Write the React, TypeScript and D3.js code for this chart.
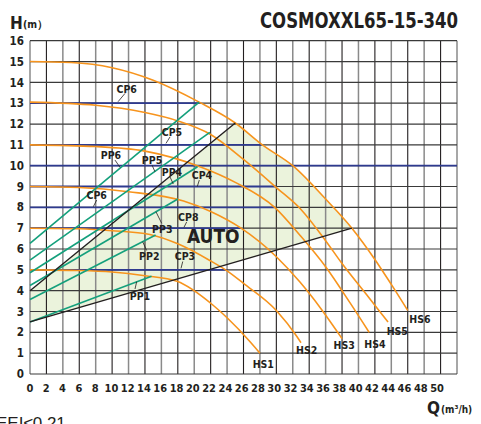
import React from 'react';
import * as d3 from 'd3';

// pump curves: [Q m3/h, H m]
const curveHS6 = [[0, 15], [5, 14.95], [10, 14.7], [15, 14.1], [20.6, 13.05], [25, 12.05], [28.3, 11], [32, 10], [36, 8.4], [39.2, 7], [42, 5.5], [44, 4.3], [46, 3.05]];
const curveHS5 = [[0, 13.05], [8, 12.9], [14, 12.55], [18, 12.15], [22, 11.5], [26, 10.3], [30, 8.95], [33, 7.9], [36, 6.4], [38, 5.3], [41, 3.8], [43.6, 2.5]];
const curveHS4 = [[0, 11], [8, 10.92], [14, 10.7], [20.7, 9.95], [25, 9.2], [29.8, 8.0], [32.9, 6.65], [36, 5.15], [39, 3.4], [41.3, 2.0]];
const curveHS3 = [[0, 9], [6, 8.95], [12, 8.75], [18.7, 8.3], [22, 7.8], [25.7, 7.0], [30, 5.63], [32.9, 4.4], [35.5, 3.1], [38, 1.7]];
const curveHS2 = [[0, 7], [6, 6.97], [10, 6.88], [14.6, 6.7], [18, 6.25], [21.9, 5.45], [24, 4.95], [26, 4.35], [30, 3.05], [32.5, 1.8], [33, 1.5]];
const curveHS1 = [[0, 5], [6, 4.97], [10, 4.9], [14, 4.72], [17.9, 4.45], [22.3, 3.3], [24, 2.7], [26.8, 1.55], [28, 1.0]];
const pumpCurves = [curveHS6, curveHS5, curveHS4, curveHS3, curveHS2, curveHS1];

// constant pressure lines (height, end flow)
const cpHeights = [13, 11, 10, 9, 8, 7, 5];
const cpEndQ = [20.6, 28.2, 52, 30, 29.8, 25.7, 24];

// proportional pressure lines PP1..PP6
const ppStartH = [2.5, 3.58, 4.25, 4.86, 5.47, 6.27];
const ppEnd = [[14.8, 4.69], [15.3, 6.67], [18, 8.4], [20.4, 9.95], [21.9, 11.6], [20.6, 13.05]];

// AUTO range bounds
const autoUpper = [[0, 4], [25, 12.05]];
const autoLower = [[0, 2.5], [39.2, 7]];

const qTicks = d3.range(0, 51, 2);
const hTicks = d3.range(0, 17, 1);
const qGrid = d3.range(0, 53, 2);

// labels: text, text pos [Q,H], leader from/to
const labels = [
  { t: 'CP6', at: [11.78, 13.66], l: [[11.57, 13.47], [10.72, 13.07]] },
  { t: 'CP5', at: [17.29, 11.63], l: [[17.05, 11.38], [16.56, 11.07]] },
  { t: 'PP6', at: [9.86, 10.51], l: [[10.35, 10.27], [10.96, 9.92]] },
  { t: 'PP5', at: [14.86, 10.27], l: [[14.86, 10.03], [15.22, 9.71]] },
  { t: 'PP4', at: [17.29, 9.7], l: [[17.05, 9.46], [17.45, 9.12]] },
  { t: 'CP4', at: [20.94, 9.55], l: [[20.62, 9.31], [20.37, 9.0]] },
  { t: 'CP6', at: [8.12, 8.59], l: [[8.12, 8.35], [7.71, 8.03]] },
  { t: 'CP8', at: [19.28, 7.52], l: [[19.08, 7.3], [18.75, 7.04]] },
  { t: 'PP3', at: [16.11, 6.96], l: [[16.04, 7.23], [15.34, 7.79]] },
  { t: 'PP2', at: [14.53, 5.66], l: [[14.21, 5.93], [13.72, 6.35]] },
  { t: 'CP3', at: [18.87, 5.66], l: [[18.6, 5.4], [18.39, 5.07]] },
  { t: 'PP1', at: [13.39, 3.74], l: [[12.79, 4.08], [12.99, 4.43]] },
];
const hsLabels = ['HS6', 'HS5', 'HS4', 'HS3', 'HS2', 'HS1'];
const hsLabelAt = [[47.49, 2.64], [44.73, 2.06], [42.01, 1.44], [38.27, 1.39], [33.69, 1.15], [28.41, 0.47]];

const W = 481;
const H = 424;
const FONT = "'DejaVu Sans Condensed', 'Liberation Sans Narrow', Roboto, sans-serif";
const ORANGE = '#f7941d';
const GREEN = '#14a07c';
const BLUE = '#2e3a8f';
const INK = '#231f20';

export default function App() {
  const x = d3.scaleLinear().domain([0, 52]).range([30, 457]);
  const y = d3.scaleLinear().domain([0, 16]).range([374, 40.7]);

  const curveLine = d3.line<number[]>().x(d => x(d[0])).y(d => y(d[1])).curve(d3.curveMonotoneX);
  const straight = d3.line<number[]>().x(d => x(d[0])).y(d => y(d[1]));

  // AUTO area: upper line, down along max curve, back along lower line
  const maxSeg = curveHS6.filter(d => d[0] >= autoUpper[1][0] && d[0] <= autoLower[1][0]);
  const areaPath = straight(autoUpper) + curveLine(maxSeg)!.replace(/^M/, 'L') + 'L' + x(autoLower[0][0]) + ',' + y(autoLower[0][1]) + 'Z';

  return (
    <svg width={W} height={H} style={{ position: 'fixed', left: 0, top: 0, background: '#fff' }}>
      <rect width={W} height={H} fill="#fff" />
      <path d={areaPath} fill="#ebf3dc" stroke="none" />

      {/* grid */}
      {qGrid.map((q, i) => (
        <line key={'v' + q} x1={x(q)} x2={x(q)} y1={y(0)} y2={y(16)}
          stroke={i % 2 === 0 ? '#8a8a8a' : INK} strokeWidth={i % 2 === 0 ? 1.5 : 1.1} />
      ))}
      {hTicks.map(h => (
        <line key={'h' + h} x1={x(0)} x2={x(52)} y1={y(h)} y2={y(h)} stroke="#3a3a3a" strokeWidth={1.2} />
      ))}

      {/* constant pressure */}
      {cpHeights.map((h, i) => (
        <line key={'cp' + i} x1={x(0)} x2={x(cpEndQ[i])} y1={y(h)} y2={y(h)} stroke={BLUE} strokeWidth={1.8} />
      ))}

      {/* pump curves */}
      {pumpCurves.map((c, i) => (
        <path key={'pc' + i} d={curveLine(c)!} fill="none" stroke={ORANGE} strokeWidth={1.6} />
      ))}

      {/* proportional pressure */}
      {ppStartH.map((h, i) => (
        <path key={'pp' + i} d={straight([[0, h], ppEnd[i]])!} fill="none" stroke={GREEN} strokeWidth={1.6} />
      ))}

      {/* AUTO bounds */}
      <path d={straight(autoUpper)!} stroke={INK} strokeWidth={1.4} fill="none" />
      <path d={straight(autoLower)!} stroke={INK} strokeWidth={1.4} fill="none" />

      {/* labels */}
      <g fontFamily={FONT} fontWeight={700} fontSize={10.5} fill={INK} style={{ fontStretch: 'condensed' }}>
        {labels.map((lb, i) => (
          <g key={'lb' + i}>
            <path d={straight(lb.l)!} stroke={INK} strokeWidth={0.8} fill="none" />
            <text x={x(lb.at[0])} y={y(lb.at[1])} dy="0.36em" textAnchor="middle">{lb.t}</text>
          </g>
        ))}
        {hsLabels.map((t, i) => (
          <text key={t} x={x(hsLabelAt[i][0])} y={y(hsLabelAt[i][1])} dy="0.36em" textAnchor="middle">{t}</text>
        ))}
        <text x={x(22.32)} y={y(6.63)} dy="0.36em" textAnchor="middle" fontSize={19}>AUTO</text>
      </g>

      {/* axes labels */}
      <g fontFamily={FONT} fontWeight={700} fill={INK} style={{ fontStretch: 'condensed' }}>
        {hTicks.map(h => (
          <text key={'yt' + h} x={24} y={y(h)} dy="0.36em" textAnchor="end" fontSize={11.5}>{h}</text>
        ))}
        {qTicks.map(q => (
          <text key={'xt' + q} x={x(q) - q * 0.07} y={388} dy="0.36em" textAnchor="middle" fontSize={11}>{q}</text>
        ))}
        <text x={10} y={28.5} fontSize={17}>H</text>
        <text x={23} y={28} fontSize={10.5}>(m）</text>
        <text transform="translate(260,28) scale(0.875,1)" x={0} y={0} fontSize={21}>COSMOXXL65-15-340</text>
        <text x={427} y={413.5} fontSize={17}>Q</text>
        <text x={441} y={413} fontSize={10}>(m³/h)</text>
      </g>
      <text x={-4} y={429} fontFamily="'Liberation Sans', Arial, sans-serif" fontSize={17} fill={INK}>EEI≤0.21</text>
    </svg>
  );
}
